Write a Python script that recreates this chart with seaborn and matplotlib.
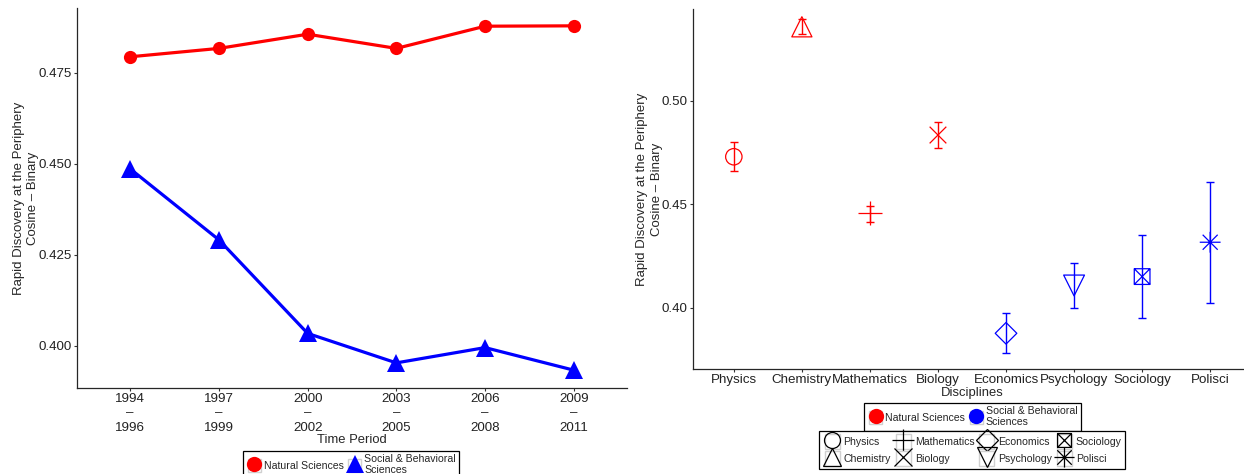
import numpy as np
import pandas as pd
import matplotlib
matplotlib.use("Agg")
import matplotlib.pyplot as plt
from matplotlib.path import Path
from matplotlib.markers import MarkerStyle
from matplotlib.lines import Line2D
from matplotlib.patches import Rectangle
from matplotlib.legend_handler import HandlerLine2D
import seaborn as sns

# ---- data -------------------------------------------------------------
periods = ["1994\n–\n1996", "1997\n–\n1999", "2000\n–\n2002",
           "2003\n–\n2005", "2006\n–\n2008", "2009\n–\n2011"]
natural_trend = [0.4794, 0.4817, 0.4856, 0.4817, 0.4878, 0.4879]
social_trend = [0.4486, 0.4291, 0.4034, 0.3953, 0.3995, 0.3933]

disciplines = ["Physics", "Chemistry", "Mathematics", "Biology",
               "Economics", "Psychology", "Sociology", "Polisci"]
fields = ["Natural Sciences"] * 4 + ["Social & Behavioral Sciences"] * 4
disc_mean = [0.4729, 0.5357, 0.4457, 0.4834, 0.3876, 0.4107, 0.4150, 0.4316]
disc_low = [0.4660, 0.5324, 0.4415, 0.4770, 0.3780, 0.3997, 0.3949, 0.4021]
disc_high = [0.4802, 0.5395, 0.4493, 0.4899, 0.3973, 0.4214, 0.4350, 0.4606]

group_names = ["Natural Sciences", "Social & Behavioral Sciences"]
group_labels = ["Natural Sciences", "Social & Behavioral\nSciences"]
palette = {"Natural Sciences": "#FF0000", "Social & Behavioral Sciences": "#0000FF"}

# ---- style ------------------------------------------------------------
sns.set_style("ticks")
plt.rcParams["font.family"] = ["Liberation Sans", "DejaVu Sans"]
plt.rcParams["axes.linewidth"] = 0.9
plt.rcParams["xtick.major.size"] = 2.5
plt.rcParams["ytick.major.size"] = 2.5
plt.rcParams["xtick.major.width"] = 0.8
plt.rcParams["ytick.major.width"] = 0.8
plt.rcParams["xtick.color"] = "#333333"
plt.rcParams["ytick.color"] = "#333333"
plt.rcParams["xtick.major.pad"] = 1.0
plt.rcParams["ytick.major.pad"] = 1.5

TICK_FS = 9.6
TITLE_FS = 9.4
YLAB_FS = 9.5

W, H = 1244, 474
fig = plt.figure(figsize=(W / 100, H / 100), dpi=100)

# custom glyphs: boxed cross and eight-spoke asterisk
box_cross = Path(
    [(-1, -1), (1, -1), (1, 1), (-1, 1), (-1, -1),
     (-1, -1), (1, 1), (-1, 1), (1, -1)],
    [Path.MOVETO, Path.LINETO, Path.LINETO, Path.LINETO, Path.CLOSEPOLY,
     Path.MOVETO, Path.LINETO, Path.MOVETO, Path.LINETO])
d = 0.72
asterisk = Path(
    [(-1, 0), (1, 0), (0, -1), (0, 1), (-d, -d), (d, d), (-d, d), (d, -d)],
    [Path.MOVETO, Path.LINETO] * 4)

marker_spec = {
    "Physics": ("o", 11.8),
    "Chemistry": ("^", 14.5),
    "Mathematics": ("+", 17.0),
    "Biology": ("x", 12.0),
    "Economics": ("D", 11.0),
    "Psychology": ("v", 15.0),
    "Sociology": (box_cross, 11.3),
    "Polisci": (asterisk, 15.0),
}


class BoxedKey(HandlerLine2D):
    """Legend key drawn on a small square tile with a light outline."""

    def create_artists(self, legend, orig_handle, xdescent, ydescent,
                       width, height, fontsize, trans):
        artists = super().create_artists(legend, orig_handle, xdescent,
                                         ydescent, width, height, fontsize,
                                         trans)
        side = min(width, height) * 1.0
        cx = width / 2 - xdescent
        cy = height / 2 - ydescent
        tile = Rectangle((cx - side / 2, cy - side / 2), side, side,
                         facecolor="white", edgecolor="#D0D0D0", lw=1.0,
                         transform=trans, zorder=0)
        return [tile] + list(artists)


# ---- left panel: trend over time --------------------------------------
ax1 = fig.add_axes([77 / W, 1 - 388 / H, 550 / W, 380 / H])
trend = pd.DataFrame({
    "period": periods * 2,
    "value": natural_trend + social_trend,
    "group": [group_names[0]] * len(periods) + [group_names[1]] * len(periods),
})
sns.lineplot(data=trend, x="period", y="value", hue="group", style="group",
             palette=palette, markers={group_names[0]: "o", group_names[1]: "^"},
             dashes=False, linewidth=2.3, markersize=9.5, markeredgewidth=0,
             legend=False, sort=False, ax=ax1)
for ln in ax1.lines:
    if ln.get_marker() == "^":
        ln.set_markersize(13)

ax1.set_ylim(0.3884, 0.4928)
ax1.set_xlim(-0.6, len(periods) - 0.4)
ax1.set_yticks([0.400, 0.425, 0.450, 0.475])
ax1.set_yticklabels(["0.400", "0.425", "0.450", "0.475"])
ax1.tick_params(axis="both", labelsize=TICK_FS, labelcolor="#222222")
for t in ax1.get_xticklabels():
    t.set_linespacing(1.27)
ax1.set_xlabel("Time Period", fontsize=TITLE_FS, labelpad=0)
ax1.set_ylabel("Rapid Discovery at the Periphery\nCosine – Binary",
               fontsize=YLAB_FS, linespacing=1.3, labelpad=-1)
sns.despine(ax=ax1)

# ---- right panel: disciplines -----------------------------------------
ax2 = fig.add_axes([693 / W, 1 - 369.3 / H, 558 / W, 360.3 / H])
disc = pd.DataFrame({"discipline": disciplines, "field": fields,
                     "mean": disc_mean, "low": disc_low, "high": disc_high})

for f in group_names:
    sub = disc[disc["field"] == f]
    ax2.errorbar(sub["discipline"], sub["mean"],
                 yerr=[sub["mean"] - sub["low"], sub["high"] - sub["mean"]],
                 fmt="none", ecolor=palette[f], elinewidth=1.0,
                 capsize=3.2, capthick=1.0, zorder=2)

for name, (m, ms) in marker_spec.items():
    row = disc[disc["discipline"] == name]
    sns.scatterplot(data=row, x="discipline", y="mean", hue="field",
                    palette=palette, marker=MarkerStyle(m, fillstyle="none"),
                    s=ms ** 2, legend=False, ax=ax2, zorder=3)
    coll = ax2.collections[-1]
    col = palette[row["field"].iloc[0]]
    coll.set_facecolors("none")
    coll.set_edgecolors(col)
    coll.set_linewidths(0.9)

ax2.set_xlim(-0.6, len(disciplines) - 0.4)
ax2.set_ylim(0.3702, 0.5443)
ax2.set_yticks([0.40, 0.45, 0.50])
ax2.set_yticklabels(["0.40", "0.45", "0.50"])
ax2.tick_params(axis="both", labelsize=TICK_FS, labelcolor="#222222")
ax2.set_xlabel("Disciplines", fontsize=TITLE_FS, labelpad=0.5)
ax2.set_ylabel("Rapid Discovery at the Periphery\nCosine – Binary",
               fontsize=YLAB_FS, linespacing=1.3, labelpad=-1)
sns.despine(ax=ax2)

# ---- legends ----------------------------------------------------------
leg_kw = dict(loc="upper center", frameon=True, fancybox=False,
              edgecolor="black", framealpha=1, fontsize=7.6,
              handletextpad=0.15, columnspacing=0.25, borderpad=0.3,
              borderaxespad=0, handler_map={Line2D: BoxedKey()})

left_handles = [
    Line2D([], [], ls="none", marker="o", ms=11, color=palette[group_names[0]], mew=0),
    Line2D([], [], ls="none", marker="^", ms=13, color=palette[group_names[1]], mew=0),
]
lg1 = fig.legend(left_handles, group_labels, ncol=2, handlelength=1.55,
                 handleheight=1.55, labelspacing=0.25,
                 bbox_to_anchor=(351 / W, 1 - 450.7 / H), **leg_kw)
lg1.get_frame().set_linewidth(0.9)

right_handles = [
    Line2D([], [], ls="none", marker="o", ms=11, color=palette[g], mew=0)
    for g in group_names
]
lg2 = fig.legend(right_handles, group_labels, ncol=2, handlelength=1.55,
                 handleheight=1.55, labelspacing=0.25,
                 bbox_to_anchor=(972.5 / W, 1 - 402.7 / H), **leg_kw)
lg2.get_frame().set_linewidth(0.9)

legend_sizes = [11.5, 13.5, 15.5, 12.5, 11.0, 14.0, 10.0, 14.5]
shape_handles = [
    Line2D([], [], ls="none", marker=MarkerStyle(m, fillstyle="none"),
           ms=ls_, color="black", mew=0.9)
    for (m, _), ls_ in zip(marker_spec.values(), legend_sizes)
]
lg3 = fig.legend(shape_handles, disciplines, ncol=4, handlelength=1.85,
                 handleheight=1.85, labelspacing=0.15,
                 bbox_to_anchor=(972 / W, 1 - 431 / H), **leg_kw)
lg3.get_frame().set_linewidth(0.9)

fig.savefig("out.png", dpi=100)
